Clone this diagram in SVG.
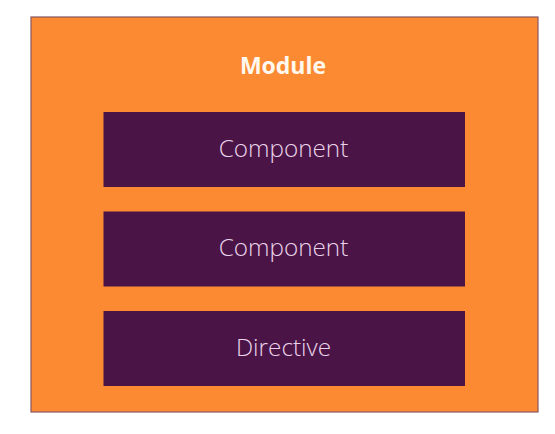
<svg xmlns="http://www.w3.org/2000/svg" width="555" height="434" viewBox="0 0 555 434">
<style>
.box{fill:#4a1546;}
.lbl{font-family:"Open Sans","Liberation Sans",sans-serif;font-weight:300;font-size:24.3px;fill:#ead3ea;text-anchor:middle;}
.title{font-family:"Open Sans","Liberation Sans",sans-serif;font-weight:700;font-size:23px;fill:#fff8ee;text-anchor:middle;}
</style>
<rect width="555" height="434" fill="#ffffff"/>
<g id="module">
<rect x="31" y="17" width="507" height="395" fill="#fb8a33" stroke="#8a5562" stroke-width="1.2"/>
<text class="title" x="283" y="74">Module</text>
</g>
<g id="component1">
<rect class="box" x="103.5" y="112" width="361.5" height="75"/>
<text class="lbl" x="283.5" y="156.5">Component</text>
</g>
<g id="component2">
<rect class="box" x="103.5" y="211.5" width="361.5" height="75"/>
<text class="lbl" x="283.5" y="256">Component</text>
</g>
<g id="directive">
<rect class="box" x="103.5" y="311" width="361.5" height="75"/>
<text class="lbl" x="283.5" y="355.5">Directive</text>
</g>
<g id="connectors"></g>
</svg>
